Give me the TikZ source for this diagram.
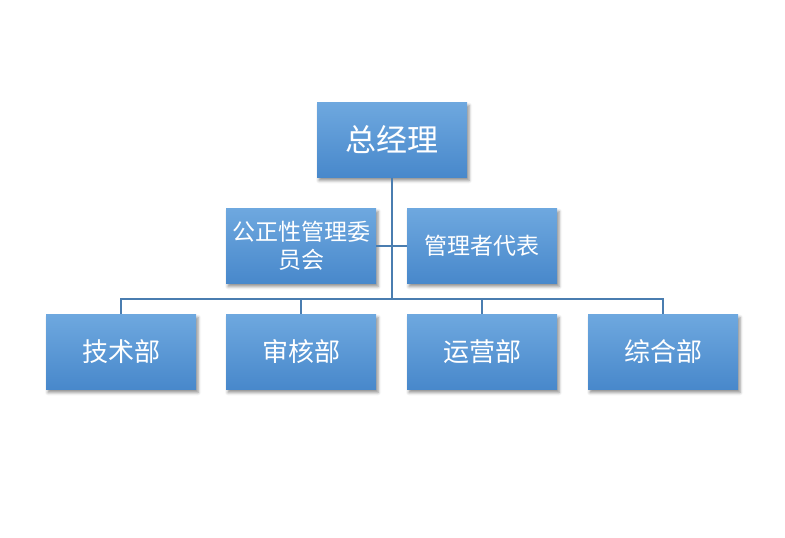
\documentclass[tikz,border=0pt]{standalone}
\usepackage{fontspec}
\setmainfont{Noto Sans CJK SC}
\usetikzlibrary{shadows.blur}

\definecolor{boxtop}{HTML}{6EA8DF}
\definecolor{boxbot}{HTML}{4888CB}
\definecolor{linkblue}{HTML}{4A7DB0}

\tikzset{
  orgbox/.style={rectangle, minimum width=150pt, minimum height=75pt, inner sep=0pt,
    top color=boxtop, bottom color=boxbot, text=white, align=center,
    blur shadow={shadow xshift=2pt, shadow yshift=-3pt, shadow blur radius=3pt, shadow opacity=45}},
  link/.style={draw=linkblue, line width=2.2pt}
}

\begin{document}
\begin{tikzpicture}[x=1pt, y=-1pt]
  \useasboundingbox (0,0) rectangle (785,538);
  % top
  \node[orgbox, font=\fontsize{31}{34}\selectfont] (zjl) at (392,140) {总经理};
  % middle
  \node[orgbox, font=\fontsize{23}{28}\selectfont] (gzx) at (301,246) {公正性管理委\\员会};
  \node[orgbox, font=\fontsize{23}{28}\selectfont] (glz) at (482,246) {管理者代表};
  % departments
  \node[orgbox, font=\fontsize{26}{30}\selectfont] (jsb) at (121,352) {技术部};
  \node[orgbox, font=\fontsize{26}{30}\selectfont] (shb) at (301,352) {审核部};
  \node[orgbox, font=\fontsize{26}{30}\selectfont] (yyb) at (482,352) {运营部};
  \node[orgbox, font=\fontsize{26}{30}\selectfont] (zhb) at (663,352) {综合部};
  \coordinate (hub) at (392,299);

  \draw[link] (zjl.south) -- (hub);
  \draw[link] (gzx.east) -- (glz.west);
  \foreach \d in {jsb,shb,yyb,zhb}
    \draw[link] (hub) -| (\d.north);
\end{tikzpicture}
\end{document}
